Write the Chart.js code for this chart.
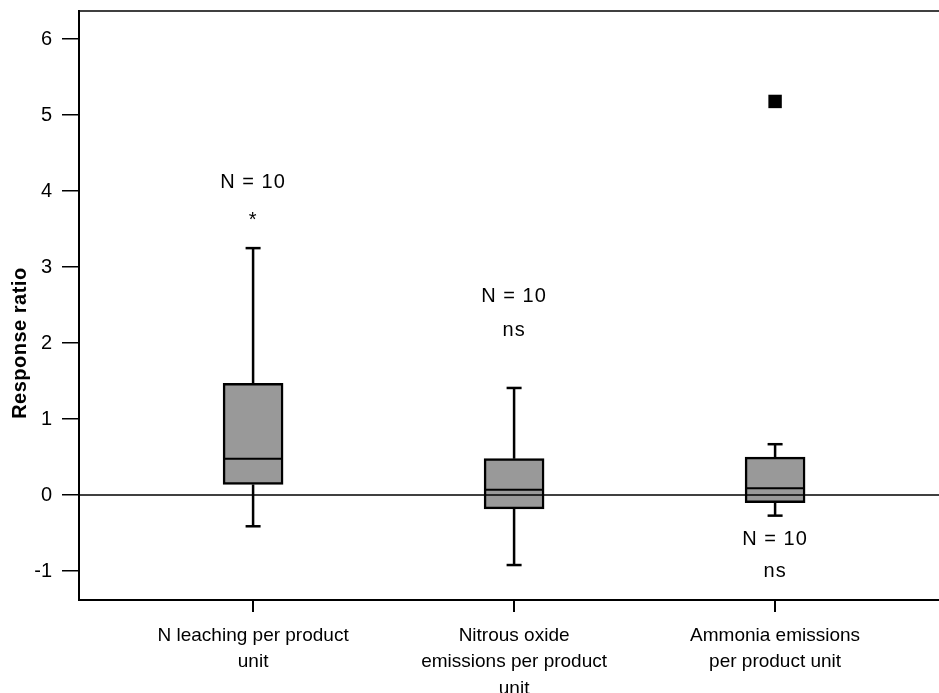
<!DOCTYPE html>
<html>
<head>
<meta charset="utf-8">
<script src="https://cdn.jsdelivr.net/npm/chart.js@4.4.1/dist/chart.umd.min.js"></script>
<style>
  html, body { margin: 0; padding: 0; background: #fff; }
  #wrap { width: 939px; height: 693px; position: relative; }
</style>
</head>
<body>
<div id="wrap"><canvas id="chart"></canvas></div>
<script>
// Categories (x positions 0, 1, 2) and their multi-line labels
const categories = [
  ['N leaching per product', 'unit'],
  ['Nitrous oxide', 'emissions per product', 'unit'],
  ['Ammonia emissions', 'per product unit']
];
const positions = [0, 1, 2];

// Box plot values
const whiskerLow  = [-0.41, -0.92, -0.27];
const q1          = [0.14, -0.18, -0.10];
const medians     = [0.48, 0.07, 0.09];
const q3          = [1.47, 0.48, 0.50];
const whiskerHigh = [3.25, 1.41, 0.67];

// Outliers
const outlierCat = [2];
const outlierVal = [5.18];

// Annotations above / below each box
const nLabel  = ['N = 10', 'N = 10', 'N = 10'];
const nLabelY = [4.12, 2.61, -0.59];
const sigText = ['*', 'ns', 'ns'];
const sigY    = [3.62, 2.17, -1.00];

// Y ticks
const yTicks = [-1, 0, 1, 2, 3, 4, 5, 6];
const yTitle = 'Response ratio';

const FONT = "'Liberation Sans', Arial, sans-serif";

// Whisker segments: q3 -> high, q1 -> low (null breaks the line)
const whiskerData = [];
positions.forEach((x, i) => {
  whiskerData.push({ x, y: q3[i] }, { x, y: whiskerHigh[i] }, { x, y: null });
  whiskerData.push({ x, y: q1[i] }, { x, y: whiskerLow[i] }, { x, y: null });
});

const capData = [];
positions.forEach((x, i) => {
  capData.push({ x, y: whiskerHigh[i] }, { x, y: whiskerLow[i] });
});

const annotations = {
  id: 'annotations',
  afterDatasetsDraw(chart) {
    const { ctx, chartArea, scales } = chart;
    const xs = scales.x, ys = scales.y;
    ctx.save();
    // reference line at 0
    ctx.strokeStyle = '#000';
    ctx.lineWidth = 1.5;
    const y0 = ys.getPixelForValue(0);
    ctx.beginPath();
    ctx.moveTo(chartArea.left, y0);
    ctx.lineTo(chartArea.right, y0);
    ctx.stroke();
    // top frame line
    ctx.beginPath();
    ctx.moveTo(chartArea.left, chartArea.top);
    ctx.lineTo(chartArea.right, chartArea.top);
    ctx.stroke();
    // labels
    ctx.fillStyle = '#000';
    ctx.textAlign = 'center';
    ctx.textBaseline = 'middle';
    ctx.font = '20px ' + FONT;
    ctx.letterSpacing = '1px';
    positions.forEach((x, i) => {
      const px = xs.getPixelForValue(x);
      ctx.fillText(nLabel[i], px, ys.getPixelForValue(nLabelY[i]));
      ctx.fillText(sigText[i], px, ys.getPixelForValue(sigY[i]));
    });
    // y axis title
    ctx.font = 'bold 20px ' + FONT;
    ctx.letterSpacing = '0.5px';
    ctx.translate(20, ys.getPixelForValue(2));
    ctx.rotate(-Math.PI / 2);
    ctx.fillText(yTitle, 0, 0);
    ctx.restore();
  }
};

new Chart(document.getElementById('chart'), {
  type: 'bar',
  data: {
    datasets: [
      {
        type: 'bar',
        data: positions.map((x, i) => ({ x, y: [q1[i], q3[i]] })),
        backgroundColor: '#999999',
        borderColor: '#000',
        borderWidth: 2.5,
        borderSkipped: false,
        barThickness: 60,
        order: 2
      },
      {
        type: 'line',
        data: whiskerData,
        borderColor: '#000',
        borderWidth: 2.5,
        pointRadius: 0,
        spanGaps: false,
        order: 3
      },
      {
        type: 'scatter',
        data: capData,
        pointStyle: 'line',
        pointRadius: 7.5,
        borderColor: '#000',
        borderWidth: 2.5,
        order: 1
      },
      {
        type: 'scatter',
        data: positions.map((x, i) => ({ x, y: medians[i] })),
        pointStyle: 'line',
        pointRadius: 29,
        borderColor: '#000',
        borderWidth: 2,
        order: 0
      },
      {
        type: 'scatter',
        data: outlierCat.map((x, i) => ({ x, y: outlierVal[i] })),
        pointStyle: 'rect',
        pointRadius: 9.5,
        backgroundColor: '#000',
        borderColor: '#000',
        borderWidth: 0,
        order: 0
      }
    ]
  },
  options: {
    responsive: true,
    maintainAspectRatio: false,
    animation: false,
    events: [],
    layout: { autoPadding: false, padding: { top: 11, right: 0, left: 0, bottom: 0 } },
    plugins: {
      legend: { display: false },
      tooltip: { enabled: false }
    },
    scales: {
      x: {
        type: 'linear',
        offset: false,
        min: -0.667,
        max: 2.628,
        afterBuildTicks: (scale) => { scale.ticks = positions.map(v => ({ value: v })); },
        afterFit: (scale) => {
          scale.height = 93;
          scale.paddingLeft = 0;
          scale.paddingRight = 0;
        },
        ticks: {
          autoSkip: false,
          maxRotation: 0,
          color: '#000',
          padding: 10,
          font: { family: FONT, size: 19, lineHeight: 1.4 },
          callback: (v) => categories[v]
        },
        grid: { offset: false, drawOnChartArea: false, tickLength: 12, color: '#000', lineWidth: 2 },
        border: { color: '#000', width: 2 }
      },
      y: {
        min: -1.38,
        max: 6.37,
        afterBuildTicks: (scale) => { scale.ticks = yTicks.map(v => ({ value: v })); },
        afterFit: (scale) => {
          scale.width = 79;
          scale.paddingTop = 0;
          scale.paddingBottom = 0;
        },
        ticks: {
          color: '#000',
          padding: 10,
          font: { family: FONT, size: 20 }
        },
        grid: { drawOnChartArea: false, tickLength: 17, color: '#000', lineWidth: 1.5 },
        border: { color: '#000', width: 2 }
      }
    }
  },
  plugins: [annotations]
});
</script>
</body>
</html>
